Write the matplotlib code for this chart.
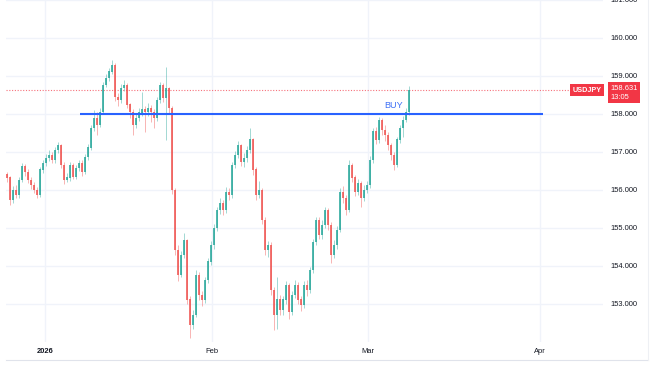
import numpy as np
import matplotlib
matplotlib.use("Agg")
from matplotlib import pyplot as plt
from matplotlib.lines import Line2D

plt.rcParams['font.family'] = ['Liberation Sans', 'DejaVu Sans']

# USDJPY candles (open = previous close)
first_open = 156.40
closes = [156.32, 155.74, 156.00, 155.87, 156.26, 156.61, 156.47, 156.26, 156.13, 156.00,
          155.87, 156.53, 156.71, 156.84, 156.92, 156.79, 157.05, 157.18, 156.66, 156.26,
          156.32, 156.66, 156.34, 156.58, 156.71, 156.47, 156.87, 157.11, 157.63, 157.89,
          157.71, 158.05, 158.76, 158.95, 159.11, 159.29, 158.45, 158.37, 158.68, 158.76,
          158.24, 158.05, 157.71, 157.89, 158.03, 158.11, 158.05, 158.16, 158.05, 157.89,
          158.37, 158.76, 158.42, 158.68, 158.16, 156.00, 154.42, 153.76, 154.29, 154.68,
          153.11, 152.45, 152.71, 153.76, 153.24, 153.11, 153.63, 154.11, 154.55, 155.00,
          155.47, 155.66, 155.47, 155.95, 155.87, 156.66, 156.92, 157.18, 156.74, 156.84,
          157.05, 157.32, 156.53, 155.87, 156.00, 155.21, 154.42, 154.55, 153.37, 152.71,
          153.11, 152.84, 153.11, 153.50, 152.79, 153.24, 153.50, 153.11, 152.97, 153.50,
          153.37, 153.89, 154.63, 155.21, 154.82, 155.08, 155.47, 155.08, 154.29, 154.55,
          154.95, 155.95, 155.79, 155.47, 156.66, 156.32, 155.95, 156.18, 155.79, 156.00,
          156.13, 156.79, 157.53, 157.32, 157.84, 157.58, 157.45, 157.18, 156.92, 156.66,
          157.32, 157.63, 157.84, 158.05, 158.631]
highs = [156.48, 156.38, 156.10, 156.12, 156.34, 156.72, 156.68, 156.55, 156.34, 156.20,
         156.08, 156.60, 156.80, 156.95, 157.05, 157.00, 157.12, 157.26, 157.22, 156.74,
         156.45, 156.75, 156.72, 156.66, 156.80, 156.78, 156.95, 157.20, 157.70, 158.10,
         158.05, 158.15, 158.85, 159.05, 159.22, 159.42, 159.33, 158.55, 158.78, 158.90,
         158.82, 158.30, 158.12, 158.00, 158.15, 158.58, 158.20, 158.28, 158.25, 158.12,
         158.45, 158.85, 158.82, 159.24, 158.72, 158.20, 156.05, 154.55, 154.40, 154.87,
         154.72, 153.20, 152.85, 153.90, 153.85, 153.35, 153.72, 154.20, 154.65, 155.10,
         155.56, 155.78, 155.75, 156.08, 156.05, 156.75, 157.02, 157.30, 157.22, 156.98,
         157.15, 157.63, 157.38, 156.60, 156.25, 156.05, 155.28, 154.65, 154.63, 153.45,
         153.71, 153.25, 153.22, 153.60, 153.55, 153.35, 153.62, 153.58, 153.20, 153.60,
         153.62, 153.98, 154.72, 155.30, 155.28, 155.20, 155.55, 155.52, 155.15, 154.68,
         155.05, 156.05, 156.10, 155.88, 156.79, 156.72, 156.40, 156.30, 156.25, 156.12,
         156.25, 156.90, 157.62, 157.65, 157.92, 157.90, 157.70, 157.52, 157.25, 157.00,
         157.40, 157.72, 157.95, 158.15, 158.74]
lows = [156.20, 155.60, 155.66, 155.78, 155.80, 156.20, 156.38, 156.18, 156.02, 155.92,
        155.78, 155.82, 156.45, 156.64, 156.76, 156.70, 156.72, 156.98, 156.58, 156.16,
        156.20, 156.25, 156.28, 156.28, 156.50, 156.36, 156.42, 156.80, 157.05, 157.55,
        157.45, 157.65, 158.00, 158.70, 158.88, 159.05, 158.35, 158.22, 158.30, 158.60,
        158.15, 157.90, 157.45, 157.62, 157.82, 157.95, 157.52, 157.96, 157.80, 157.62,
        157.82, 158.30, 158.32, 157.32, 158.00, 155.90, 154.30, 153.60, 153.70, 154.20,
        153.00, 152.11, 152.35, 152.65, 153.10, 152.95, 153.02, 153.55, 154.02, 154.45,
        154.92, 155.38, 155.35, 155.40, 155.75, 155.80, 156.58, 156.85, 156.62, 156.60,
        156.75, 156.98, 156.40, 155.75, 155.80, 155.10, 154.30, 154.25, 153.25, 152.32,
        152.35, 152.70, 152.72, 153.00, 152.60, 152.70, 153.15, 153.00, 152.82, 152.90,
        153.20, 153.30, 153.82, 154.55, 154.70, 154.72, 155.00, 154.95, 154.08, 154.20,
        154.45, 154.90, 155.65, 155.35, 155.42, 156.20, 155.85, 155.88, 155.55, 155.70,
        155.92, 156.05, 156.72, 157.20, 157.25, 157.45, 157.30, 157.05, 156.80, 156.53,
        156.60, 157.25, 157.39, 157.78, 157.98]

price_ticks = [153, 154, 155, 156, 157, 158, 159, 160, 161]
month_labels = ['2026', 'Feb', 'Mar', 'Apr']
month_bars = [12.67, 68.33, 120.33, 177.67]   # bar position of the 1st of each month
buy_level = 158.0
buy_span = (24.3, 178.7)
last_price = 158.631

opens = [first_open] + closes[:-1]
o = np.array(opens)
c = np.array(closes)
h = np.array(highs)
l = np.array(lows)
idx = np.arange(len(c))
up = c >= o

green = '#26a69a'
red = '#ef5350'

fig = plt.figure(figsize=(6.5, 3.69), dpi=100)
ax = fig.add_axes([6 / 650, 27 / 369, 597 / 650, 342 / 369])

ax.set_xlim(-0.33, 198.67)
ax.set_ylim(152.0, 161.0)

# grid
for p in price_ticks:
    ax.axhline(p, color='#f0f3fa', lw=1.0, zorder=0)
for m in month_bars:
    ax.axvline(m, color='#f0f3fa', lw=1.0, zorder=0)

# candles
cols = np.where(up, green, red)
ax.vlines(idx, l, h, colors=cols, lw=0.5, alpha=0.6, zorder=2)
ax.bar(idx, np.abs(c - o) + 0.01, bottom=np.minimum(o, c), width=0.5,
       color=cols, edgecolor='none', alpha=0.8, zorder=3)

# last price line
ax.axhline(last_price, color='#f23645', lw=0.8, ls=(0, (1, 1.5)), alpha=0.7, zorder=1)

# buy level
ax.hlines(buy_level, buy_span[0], buy_span[1], color='#2962ff', lw=1.5, zorder=4)
ax.text(129, 158.22, 'BUY', color='#3d6ff5', fontsize=6.5, ha='center', va='center')

# axes styling
for s in ax.spines.values():
    s.set_visible(False)
ax.yaxis.tick_right()
ax.set_yticks(price_ticks)
ax.set_yticklabels(['%.3f' % p for p in price_ticks])
ax.tick_params(axis='y', length=0, pad=5, labelsize=5.4, labelcolor='#131722')
ax.set_xticks(month_bars)
ax.set_xticklabels(month_labels)
ax.tick_params(axis='x', length=0, pad=4, labelsize=5.4, labelcolor='#131722')
ax.get_xticklabels()[0].set_fontweight('bold')

# price labels on the right
ytr = ax.get_yaxis_transform()
ax.text(0.997, last_price, 'USDJPY', transform=ytr, ha='right', va='center',
        fontsize=5.2, color='white', fontweight='bold', clip_on=False,
        bbox=dict(boxstyle='square,pad=0.35', fc='#f23645', ec='none'))
ax.text(1.012, last_price + 0.13, '158.631\n13:05', transform=ytr, ha='left', va='top',
        fontsize=5.4, color='white', linespacing=1.3, clip_on=False,
        bbox=dict(boxstyle='square,pad=0.35', fc='#f23645', ec='none'))

# panel border
fig.add_artist(Line2D([6 / 650, 648 / 650], [9 / 369, 9 / 369], color='#e0e3eb', lw=0.8))
fig.add_artist(Line2D([648 / 650, 648 / 650], [9 / 369, 1], color='#eef0f4', lw=0.8))

fig.savefig('out.png', dpi=100)
